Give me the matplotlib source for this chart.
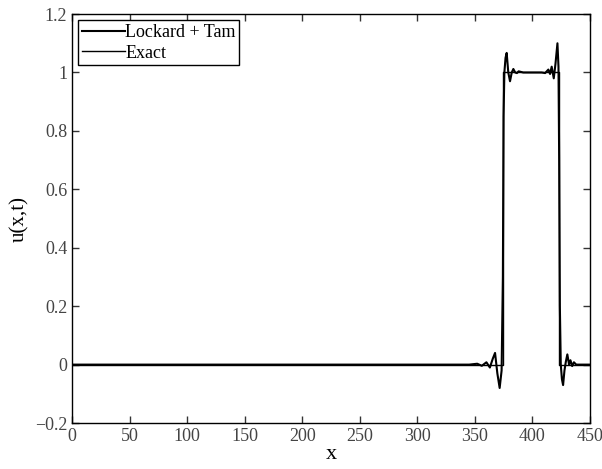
import numpy as np
import matplotlib.pyplot as plt

plt.rcParams['font.family'] = ['Liberation Serif', 'DejaVu Serif']

# Lockard + Tam numerical solution (square pulse with Gibbs-like wiggles)
x_num = [0, 250, 345, 352, 356, 360, 363, 365.5, 367.5, 369.5, 371.5, 373.2,
         374.3, 374.9, 375.6, 376.6, 377.6, 379, 380.5, 382, 383.4, 385,
         386.5, 388, 392, 408, 411, 413.8, 415.3, 416.7, 418.5, 420, 421.7,
         422.6, 423.2, 423.8, 424.6, 425.6, 426.6, 427.8, 429, 430.3, 431.8,
         433, 434.5, 436, 438, 442, 450]
u_num = [0, 0, 0, 0.003, -0.004, 0.008, -0.01, 0.02, 0.04, -0.03, -0.08,
         -0.02, 0.3, 0.85, 1.0, 1.05, 1.067, 1.0, 0.97, 1.0, 1.012, 1.0,
         0.998, 1.004, 1.0, 1.0, 0.998, 1.01, 0.995, 1.02, 0.98, 1.03, 1.10,
         1.02, 0.7, 0.2, 0.0, -0.05, -0.07, -0.02, 0.01, 0.035, 0.0, 0.015,
         -0.005, 0.008, 0.0, 0.0, 0.0]

# exact solution
x_ex = [0, 374.6, 374.6, 423.4, 423.4, 450]
u_ex = [0, 0, 1, 1, 0, 0]

xticks = [0, 50, 100, 150, 200, 250, 300, 350, 400, 450]
yticks = [-0.2, 0, 0.2, 0.4, 0.6, 0.8, 1.0, 1.2]
ylabels = ['\u22120.2', '0', '0.2', '0.4', '0.6', '0.8', '1', '1.2']

fig = plt.figure(figsize=(6.02, 4.69), dpi=100)
ax = fig.add_axes([0.1196, 0.098, 0.8605, 0.872])

ax.plot(x_num, u_num, color='black', lw=1.5, label='Lockard + Tam')
ax.plot(x_ex, u_ex, color='black', lw=1.0, label='Exact')

ax.set_xlim(0, 450)
ax.set_ylim(-0.2, 1.2)
ax.set_xticks(xticks)
ax.set_xticklabels([str(t) for t in xticks])
ax.set_yticks(yticks)
ax.set_yticklabels(ylabels)
ax.tick_params(direction='in', length=5, width=1, top=True, right=True,
               labelsize=13, colors='#333333', labelcolor='#444444')
for s in ax.spines.values():
    s.set_linewidth(1.0)

ax.set_xlabel('x', fontsize=16, labelpad=0)
ax.set_ylabel('u(x,t)', fontsize=15, labelpad=4)

leg = ax.legend(loc='upper left', fontsize=13, handlelength=2.4,
                handletextpad=0.0, borderaxespad=0.35, borderpad=0.2,
                labelspacing=0.2, fancybox=False, framealpha=1)
leg.get_frame().set_edgecolor('black')
leg.get_frame().set_linewidth(1.0)

fig.savefig('out.png', dpi=100)
